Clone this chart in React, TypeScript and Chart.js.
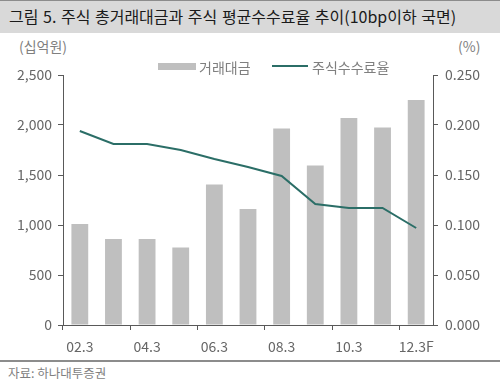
import React, { useEffect, useRef } from "react";
import { Chart, registerables } from "chart.js";

Chart.register(...registerables);

const categories = ["02.3", "03.3", "04.3", "05.3", "06.3", "07.3", "08.3", "09.3", "10.3", "11.3", "12.3F"];
const tradingValue = [1010, 860, 860, 775, 1405, 1160, 1965, 1595, 2070, 1975, 2250];
const feeRate = [0.194, 0.181, 0.181, 0.175, 0.166, 0.158, 0.149, 0.121, 0.117, 0.117, 0.097];
const leftTicks = [0, 500, 1000, 1500, 2000, 2500];
const rightTicks = [0, 0.05, 0.1, 0.15, 0.2, 0.25];

const FONT = "'Noto Sans CJK KR', 'Noto Sans', sans-serif";
const BAR_COLOR = "#bfbfbf";
const LINE_COLOR = "#2b6e67";
const AXIS_COLOR = "#595959";
const TEXT_COLOR = "#666666";

export default function App() {
  const canvasRef = useRef<HTMLCanvasElement | null>(null);

  useEffect(() => {
    if (!canvasRef.current) return;
    const chart = new Chart(canvasRef.current, {
      type: "bar",
      data: {
        labels: categories,
        datasets: [
          {
            type: "line",
            label: "주식수수료율",
            data: feeRate,
            yAxisID: "y1",
            borderColor: LINE_COLOR,
            backgroundColor: LINE_COLOR,
            borderWidth: 2,
            pointRadius: 0,
            tension: 0,
            order: 0,
          } as any,
          {
            type: "bar",
            label: "거래대금",
            data: tradingValue,
            yAxisID: "y",
            backgroundColor: BAR_COLOR,
            borderWidth: 0,
            barPercentage: 0.5,
            categoryPercentage: 1,
            order: 1,
          } as any,
        ],
      },
      options: {
        responsive: false,
        animation: false,
        maintainAspectRatio: false,
        layout: { padding: { top: 75, left: 0, right: 0, bottom: 0 } },
        plugins: {
          legend: { display: false },
          title: { display: false },
          tooltip: { enabled: false },
        },
        scales: {
          x: {
            offset: true,
            grid: {
              offset: true,
              drawOnChartArea: false,
              drawTicks: true,
              tickLength: 5,
              color: (ctx: any) =>
                typeof ctx.index === "number" && ctx.index % 2 === 0 ? AXIS_COLOR : "rgba(0,0,0,0)",
            },
            border: { display: true, color: AXIS_COLOR, width: 1 },
            ticks: {
              autoSkip: false,
              maxRotation: 0,
              padding: 8,
              color: TEXT_COLOR,
              font: { family: FONT, size: 14 },
              callback: (_v: any, i: number) => (i % 2 === 0 ? categories[i] : ""),
            },
            afterFit: (scale: any) => {
              scale.height = 35;
            },
          },
          y: {
            position: "left",
            min: 0,
            max: 2500,
            afterBuildTicks: (scale: any) => {
              scale.ticks = leftTicks.map((v) => ({ value: v }));
            },
            grid: {
              drawOnChartArea: false,
              drawTicks: true,
              tickLength: 5,
              color: AXIS_COLOR,
            },
            border: { display: true, color: AXIS_COLOR, width: 1 },
            ticks: {
              padding: 6,
              color: TEXT_COLOR,
              font: { family: FONT, size: 14 },
              callback: (v: any) => Number(v).toLocaleString("en-US"),
            },
            afterFit: (scale: any) => {
              scale.width = 63;
            },
          },
          y1: {
            position: "right",
            min: 0,
            max: 0.25,
            afterBuildTicks: (scale: any) => {
              scale.ticks = rightTicks.map((v) => ({ value: v }));
            },
            grid: {
              drawOnChartArea: false,
              drawTicks: true,
              tickLength: 5,
              color: AXIS_COLOR,
            },
            border: { display: true, color: AXIS_COLOR, width: 1 },
            ticks: {
              padding: 7,
              color: TEXT_COLOR,
              font: { family: FONT, size: 14 },
              callback: (v: any) => Number(v).toFixed(3),
            },
            afterFit: (scale: any) => {
              scale.width = 67;
            },
          },
        },
      },
    });
    return () => chart.destroy();
  }, []);

  const grayText = "#7f7f7f";

  return (
    <div
      style={{
        position: "absolute",
        left: 0,
        top: 0,
        width: 500,
        height: 383,
        background: "#ffffff",
        overflow: "hidden",
        fontFamily: FONT,
      }}
    >
      <div
        style={{
          position: "absolute",
          left: 0,
          top: 0,
          width: 500,
          height: 33,
          background: "#d9d9d9",
          borderTop: "1px solid #8c8c8c",
          boxSizing: "border-box",
        }}
      />
      <div
        style={{
          position: "absolute",
          left: 9,
          top: 4,
          fontSize: 16,
          lineHeight: "24px",
          color: "#1a1a1a",
          whiteSpace: "nowrap",
          wordSpacing: 1,
        }}
      >
        그림 5. 주식 총거래대금과 주식 평균수수료율 추이(10bp이하 국면)
      </div>
      <div
        style={{ position: "absolute", left: 19, top: 37, fontSize: 14, lineHeight: "18px", color: grayText }}
      >
        (십억원)
      </div>
      <div
        style={{ position: "absolute", left: 458, top: 37, fontSize: 14, lineHeight: "18px", color: grayText }}
      >
        (%)
      </div>
      <canvas
        ref={canvasRef}
        width={500}
        height={360}
        style={{ position: "absolute", left: 0, top: 0, width: 500, height: 360 }}
      />
      <div
        style={{
          position: "absolute",
          left: 158,
          top: 63,
          width: 38,
          height: 7,
          background: BAR_COLOR,
        }}
      />
      <div
        style={{ position: "absolute", left: 199, top: 57, fontSize: 14, lineHeight: "20px", color: grayText }}
      >
        거래대금
      </div>
      <div
        style={{
          position: "absolute",
          left: 272,
          top: 65,
          width: 36,
          height: 2,
          background: LINE_COLOR,
        }}
      />
      <div
        style={{ position: "absolute", left: 312, top: 57, fontSize: 14, lineHeight: "20px", color: grayText }}
      >
        주식수수료율
      </div>
      <div
        style={{
          position: "absolute",
          left: 0,
          top: 360,
          width: 500,
          height: 2,
          background: "#8c8c8c",
        }}
      />
      <div
        style={{ position: "absolute", left: 8, top: 365, fontSize: 12.5, lineHeight: "16px", color: grayText }}
      >
        자료: 하나대투증권
      </div>
    </div>
  );
}
